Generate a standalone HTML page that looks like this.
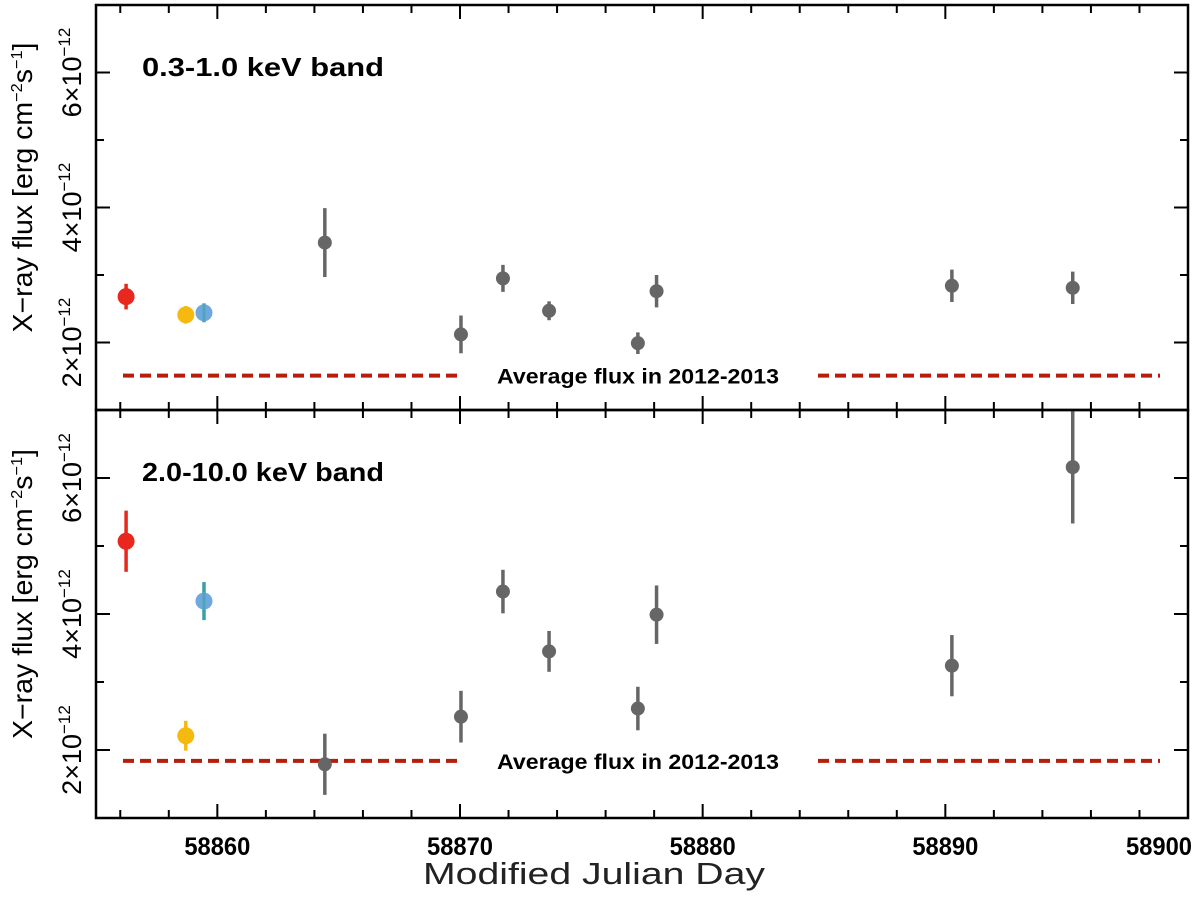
<!DOCTYPE html>
<html><head><meta charset="utf-8"><style>
html,body{margin:0;padding:0;background:#fff;}
svg text{font-family:"Liberation Sans",Helvetica,sans-serif;}
</style></head><body>
<svg id="chart" width="1200" height="892" viewBox="0 0 1200 892" xmlns="http://www.w3.org/2000/svg"></svg>
<script>
const mjd = [58856.24,58858.7,58859.45,58864.43,58870.04,58871.77,58873.67,58877.33,58878.1,58890.27,58895.25];
const softFlux = [2.68,2.41,2.44,3.48,2.12,2.95,2.47,1.99,2.76,2.84,2.81];
const softErr = [0.19,0.13,0.14,0.51,0.28,0.2,0.14,0.16,0.24,0.24,0.24];
const hardFlux = [5.07,2.21,4.19,1.79,2.49,4.33,3.45,2.61,3.99,3.24,6.16];
const hardErr = [0.45,0.22,0.28,0.45,0.38,0.32,0.3,0.32,0.43,0.45,0.83];
const softAvg = [1.51];
const hardAvg = [1.84];
const xTicks = [58860,58870,58880,58890,58900];
const yTicks = [2,4,6];
const pointColors = ['#e8281e','#f5b90f','#6fa8dc','#666','#666','#666','#666','#666','#666','#666','#666'];
const errColors = ['#e8281e','#f5b90f','#3aa0a8','#666','#666','#666','#666','#666','#666','#666','#666'];

const NS='http://www.w3.org/2000/svg';
const svg=document.getElementById('chart');
const X0=96,X1=1188,XMIN=58855,XMAX=58900;
const xs=v=>X0+(v-XMIN)/(XMAX-XMIN)*(X1-X0);
function mk(tag,attrs,parent){const e=document.createElementNS(NS,tag);for(const k in attrs)e.setAttribute(k,attrs[k]);(parent||svg).appendChild(e);return e;}

const panels=[
 {top:5,bot:410,flux:softFlux,err:softErr,avg:softAvg[0],title:'0.3-1.0 keV band',name:'soft'},
 {top:410,bot:818,flux:hardFlux,err:hardErr,avg:hardAvg[0],title:'2.0-10.0 keV band',name:'hard'}
];
panels.forEach(p=>{
  const ys=v=>p.bot-(v-1)/6*(p.bot-p.top);
  const g=mk('g',{});
  
  
  const avgY=ys(p.avg);
  [[123,462],[818,1160]].forEach(seg=>{
    const l=mk('line',{x1:seg[0],x2:seg[1],y1:avgY,y2:avgY,stroke:'#b41e0a','stroke-width':4,'stroke-dasharray':'11 6'},g);
    
    
  });
  const at=mk('text',{x:497,y:avgY+8,'font-size':21,'font-weight':'bold',fill:'#000',textLength:282,lengthAdjust:'spacingAndGlyphs'},g);
  at.textContent='Average flux in 2012-2013';
  
  
  mjd.forEach((m,i)=>{
    const x=xs(m),y=ys(p.flux[i]);
    const y1=Math.max(p.top,ys(p.flux[i]+p.err[i])),y2=Math.min(p.bot,ys(p.flux[i]-p.err[i]));
    const e=mk('line',{x1:x,x2:x,y1:y1,y2:y2,stroke:errColors[i],'stroke-width':3.5},g);
    
    
    const c=mk('circle',{cx:x,cy:y,r:i<3?8.5:7,fill:pointColors[i]},g);
    
    
    if(i<3){mk('line',{x1:x,x2:x,y1:y-8,y2:y+8,stroke:errColors[i],'stroke-width':3,opacity:0.6},g);}
  });
  const fr=mk('rect',{x:X0,y:p.top,width:X1-X0,height:p.bot-p.top,fill:'none',stroke:'#000','stroke-width':2.5},g);
  
  
  for(let d=58856;d<=58900;d+=2){
    const maj=d%10===0,len=maj?14:8,x=xs(d);
    mk('line',{x1:x,x2:x,y1:p.bot,y2:p.bot-len,stroke:'#000','stroke-width':2},g);
    mk('line',{x1:x,x2:x,y1:p.top,y2:p.top+len,stroke:'#000','stroke-width':2},g);
  }
  for(let v=1;v<=7;v++){
    const maj=v%2===0,len=maj?14:8,y=ys(v);
    mk('line',{x1:X0,x2:X0+len,y1:y,y2:y,stroke:'#000','stroke-width':2},g);
    mk('line',{x1:X1,x2:X1-len,y1:y,y2:y,stroke:'#000','stroke-width':2},g);
  }
  yTicks.forEach(v=>{
    const y=ys(v);
    const t=mk('text',{transform:`translate(81,${y}) rotate(-90)`,'text-anchor':'middle','font-size':27,fill:'#000'},g);
    t.innerHTML=v+'×10<tspan dy="-11" font-size="17">−12</tspan>';
    
    
  });
  const tt=mk('text',{x:142,y:p.top+71,'font-size':26,'font-weight':'bold',fill:'#000',textLength:242,lengthAdjust:'spacingAndGlyphs'},g);
  tt.textContent=p.title;
  
  
  const yl=mk('text',{transform:`translate(32,${(p.top+p.bot)/2-20}) rotate(-90)`,'text-anchor':'middle','font-size':28,fill:'#000',textLength:290,lengthAdjust:'spacingAndGlyphs'},g);
  yl.innerHTML='X−ray flux [erg cm<tspan dy="-10" font-size="16">−2</tspan><tspan dy="10">s</tspan><tspan dy="-10" font-size="16">−1</tspan><tspan dy="10">]</tspan>';
  
  
});
xTicks.forEach((v,i)=>{
  let x=xs(v); if(i===xTicks.length-1)x-=29;
  const t=mk('text',{x:x,y:855,'text-anchor':'middle','font-size':25,'font-weight':'bold',fill:'#000',textLength:66,lengthAdjust:'spacingAndGlyphs'});
  t.textContent=v;
  
  
});
const xl=mk('text',{x:423,y:884,'font-size':31,fill:'#222',textLength:342,lengthAdjust:'spacingAndGlyphs'});
xl.textContent='Modified Julian Day';


</script>
</body></html>
